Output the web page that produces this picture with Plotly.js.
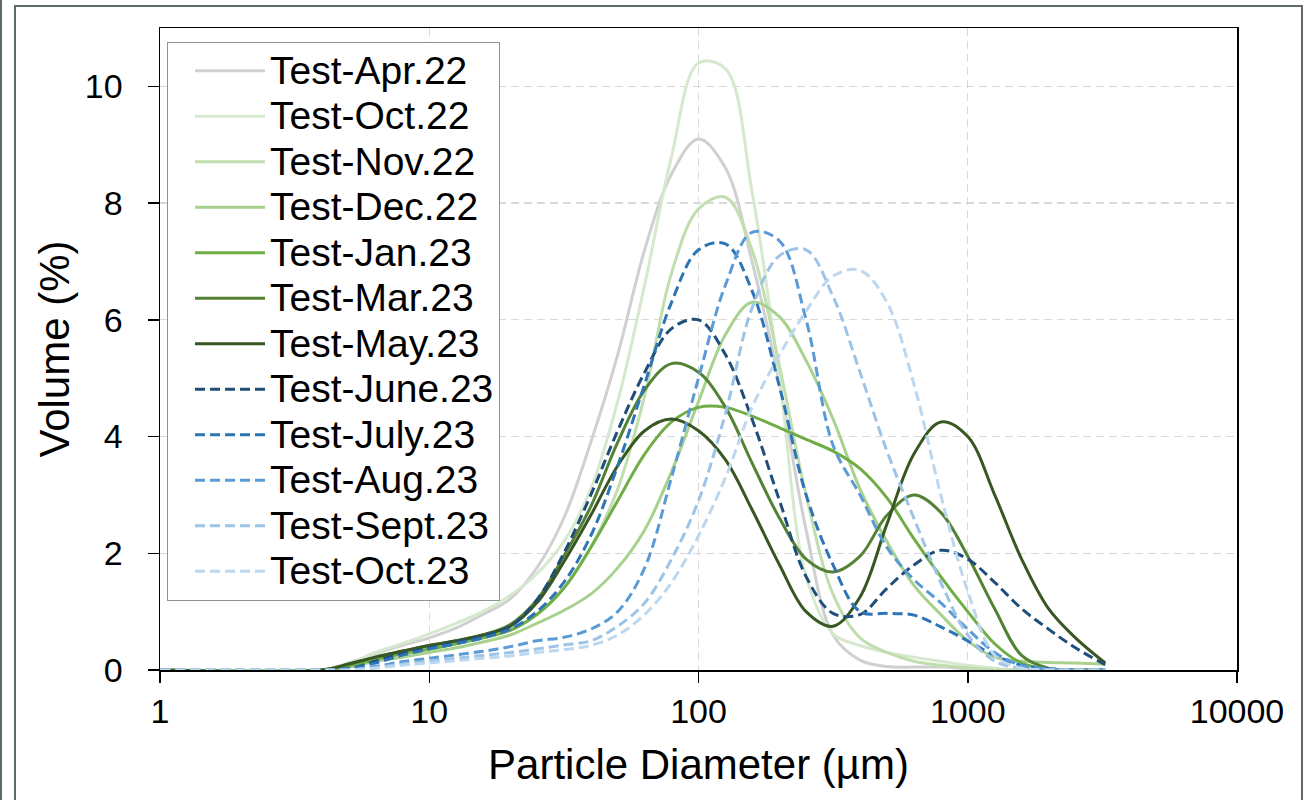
<!DOCTYPE html>
<html><head><meta charset="utf-8">
<script src="https://cdn.plot.ly/plotly-3.0.1.min.js"></script>
<style>html,body{margin:0;padding:0;background:#fff;} #chart{width:1306px;height:800px;}</style>
</head><body><div id="chart"></div>
<script>
// Particle diameter (µm) sample points (log-spaced)
const diameters = [1, 4, 5, 6.3, 7.9, 10, 12.6, 15.8, 20, 25.1, 31.6, 39.8, 50.1, 63.1, 79.4, 100, 126, 158, 200, 251, 316, 398, 501, 631, 794, 1000, 1259, 1585, 1995, 2512, 3240];

const seriesNames = ['Test-Apr.22','Test-Oct.22','Test-Nov.22','Test-Dec.22','Test-Jan.23','Test-Mar.23','Test-May.23','Test-June.23','Test-July.23','Test-Aug.23','Test-Sept.23','Test-Oct.23'];

const apr22  = [0,0,0.12,0.28,0.42,0.55,0.72,0.95,1.22,1.75,2.6,3.9,5.4,7.2,8.5,9.1,8.6,7.0,4.9,2.4,0.6,0.17,0.06,0.05,0.05,0.02,0,0,0,0,0];
const oct22  = [0,0,0.1,0.3,0.45,0.62,0.8,1.0,1.28,1.65,2.2,3.1,4.6,6.6,8.8,10.4,10.3,8.2,5.0,1.6,0.62,0.42,0.3,0.22,0.15,0.08,0.03,0,0,0,0];
const nov22  = [0,0,0.08,0.18,0.27,0.35,0.45,0.55,0.7,0.95,1.4,2.1,3.1,4.7,6.8,7.9,8.1,7.2,5.2,3.0,1.3,0.55,0.3,0.15,0.08,0.04,0,0,0,0,0];
const dec22  = [0,0,0.05,0.15,0.22,0.3,0.38,0.48,0.6,0.8,1.02,1.3,1.75,2.4,3.4,4.6,5.75,6.3,6.05,5.3,4.3,3.1,2.2,1.45,0.95,0.5,0.22,0.15,0.13,0.12,0.1];
const jan23  = [0,0,0.07,0.18,0.28,0.36,0.45,0.55,0.68,0.95,1.4,2.1,2.9,3.7,4.25,4.5,4.5,4.35,4.15,3.95,3.75,3.45,2.95,2.25,1.6,1.0,0.45,0.12,0.02,0,0];
const mar23  = [0,0,0.1,0.22,0.32,0.42,0.5,0.6,0.78,1.2,1.95,2.8,3.9,4.8,5.25,5.1,4.5,3.55,2.6,1.9,1.68,1.95,2.65,3.0,2.7,1.95,1.05,0.25,0.03,0,0];
const may23  = [0,0,0.1,0.22,0.32,0.42,0.5,0.6,0.75,1.15,1.85,2.65,3.5,4.1,4.3,4.1,3.6,2.75,1.8,1.0,0.75,1.25,2.5,3.7,4.25,4.0,3.0,1.9,1.05,0.55,0.12];
const june23 = [0,0,0.02,0.15,0.28,0.38,0.48,0.58,0.75,1.2,2.0,3.0,4.1,5.1,5.85,6.0,5.4,4.3,2.9,1.6,0.97,0.95,1.4,1.8,2.05,1.9,1.5,1.05,0.7,0.38,0.09];
const july23 = [0,0,0.03,0.12,0.25,0.36,0.45,0.55,0.7,1.0,1.5,2.3,3.5,4.9,6.3,7.2,7.3,6.5,4.85,3.0,1.8,1.0,0.97,0.94,0.74,0.5,0.25,0.08,0.02,0,0];
const aug23  = [0,0,0,0.06,0.14,0.2,0.26,0.32,0.4,0.5,0.56,0.7,1.0,1.75,3.3,5.0,6.6,7.5,7.35,6.0,3.85,3.0,2.1,1.55,1.15,0.7,0.3,0.08,0.02,0,0];
const sept23 = [0,0,0,0.04,0.1,0.15,0.2,0.25,0.3,0.36,0.43,0.5,0.75,1.15,1.9,2.9,4.4,6.2,7.1,7.2,6.4,5.1,3.75,2.6,1.5,0.6,0.15,0.03,0,0,0];
const oct23  = [0,0,0,0.03,0.08,0.12,0.16,0.2,0.24,0.3,0.35,0.42,0.6,0.95,1.5,2.3,3.3,4.5,5.4,6.15,6.75,6.85,6.3,4.9,3.0,1.35,0.25,0.03,0,0,0];

const seriesValues = [apr22, oct22, nov22, dec22, jan23, mar23, may23, june23, july23, aug23, sept23, oct23];

const colors = ['#d0d0d0','#d6e9cf','#c0deae','#a9d18e','#70ad47','#548235','#385723','#1f4e79','#2e75b6','#5b9bd5','#9dc3e6','#bdd7ee'];
const dashes = ['solid','solid','solid','solid','solid','solid','solid','10px,5px','10px,5px','10px,5px','10px,5px','10px,5px'];

const xTickVals = [1, 10, 100, 1000, 10000];
const xTickText = ['1', '10', '100', '1000', '10000'];
const yTickVals = [0, 2, 4, 6, 8, 10];

const FONT = "Arial, 'Liberation Sans', sans-serif";

const traces = seriesNames.map((n, i) => ({
  type: 'scatter', mode: 'lines',
  x: diameters, y: seriesValues[i],
  name: '<span style="font-size:39px">' + n + '</span>',
  line: {color: colors[i], width: 3, shape: 'spline', smoothing: 1, dash: dashes[i]},
  hoverinfo: 'skip'
}));

function px2x(p) { return (p - 160) / 1077; }
function py2y(p) { return (670 - p) / 642; }

const layout = {
  width: 1306, height: 800,
  margin: {l: 160, r: 69, t: 28, b: 130},
  paper_bgcolor: '#ffffff', plot_bgcolor: '#ffffff',
  font: {family: FONT, color: '#000000', size: 34},
  showlegend: true,
  legend: {
    x: px2x(167), y: py2y(42), xanchor: 'left', yanchor: 'top',
    bgcolor: '#ffffff', bordercolor: '#8a9696', borderwidth: 1,
    font: {family: FONT, size: 32.7, color: '#000000'},
    itemwidth: 70, indentation: 22, tracegroupgap: 0
  },
  xaxis: {
    type: 'log', range: [0, 4], tickmode: 'array', tickvals: xTickVals, ticktext: xTickText,
    ticks: 'outside', ticklen: 11, tickwidth: 1.5, tickcolor: '#000000',
    showline: true, linecolor: '#000000', linewidth: 1.5, mirror: true,
    showgrid: true, gridcolor: '#d9d9d9', gridwidth: 1.3, griddash: '8px,5px',
    zeroline: false, tickfont: {family: FONT, size: 34, color: '#000000'},
    title: {text: 'Particle Diameter (µm)', font: {family: FONT, size: 42, color: '#000000'}, standoff: 20},
    automargin: false
  },
  yaxis: {
    range: [0, 11], tickmode: 'array', tickvals: yTickVals,
    ticks: 'outside', ticklen: 11, tickwidth: 1.5, tickcolor: '#000000', ticklabelstandoff: 18,
    showline: true, linecolor: '#000000', linewidth: 1.5, mirror: true,
    showgrid: true, gridcolor: '#d9d9d9', gridwidth: 1.3, griddash: '8px,5px',
    zeroline: false, tickfont: {family: FONT, size: 34, color: '#000000'},
    title: {text: 'Volume (%)', font: {family: FONT, size: 42, color: '#000000'}, standoff: 2},
    automargin: false
  },
  shapes: [
    {type: 'rect', xref: 'paper', yref: 'paper', x0: px2x(15), x1: px2x(1302), y0: py2y(830), y1: py2y(6),
     line: {color: '#5f6b6b', width: 2}, fillcolor: 'rgba(0,0,0,0)', layer: 'below'},
    {type: 'line', xref: 'paper', yref: 'paper', x0: px2x(1), x1: px2x(1), y0: py2y(830), y1: py2y(-10),
     line: {color: '#5f6b6b', width: 2}}
  ]
};

Plotly.newPlot('chart', traces, layout, {displayModeBar: false, staticPlot: true});
</script>
</body></html>
